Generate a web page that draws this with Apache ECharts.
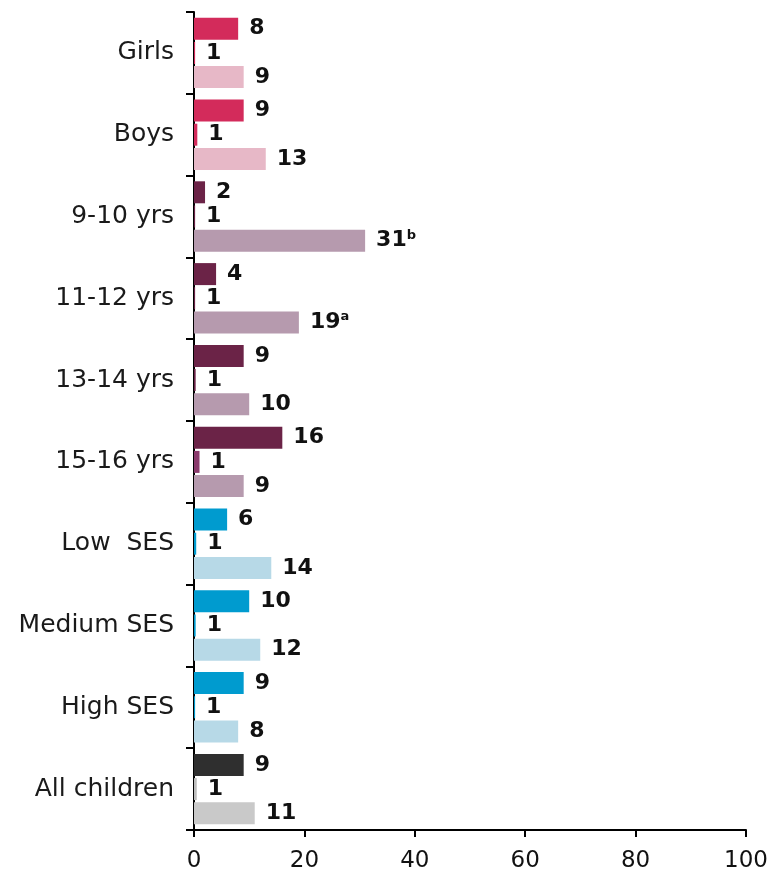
<!DOCTYPE html>
<html>
<head>
<meta charset="utf-8">
<script src="https://cdn.jsdelivr.net/npm/echarts@6/dist/echarts.min.js"></script>
<style>
html,body{margin:0;padding:0;background:#fff;}
#chart{width:780px;height:874px;}
</style>
</head>
<body>
<div id="chart"></div>
<script>
// ---- data ----
const categories = ['Girls','Boys','9-10 yrs','11-12 yrs','13-14 yrs','15-16 yrs','Low  SES','Medium SES','High SES','All children'];
const topValues    = [8, 9, 2, 4, 9, 16, 6, 10, 9, 9];
const middleValues = [0.2, 0.6, 0.2, 0.2, 0.3, 1.0, 0.4, 0.3, 0.2, 0.5];
const bottomValues = [9, 13, 31, 19, 10, 9, 14, 12, 8, 11];
const topLabels    = ['8','9','2','4','9','16','6','10','9','9'];
const middleLabels = ['1','1','1','1','1','1','1','1','1','1'];
const bottomLabels = ['9','13','31^b','19^a','10','9','14','12','8','11'];
const xTicks = [0, 20, 40, 60, 80, 100];

// ---- colours per category group ----
const darkColors  = ['#D32B5B','#D32B5B','#6B2347','#6B2347','#6B2347','#6B2347','#009BCF','#009BCF','#009BCF','#2F2F2F'];
const midColors   = ['#D32B5B','#D32B5B','#6B2347','#6B2347','#6B2347','#8A3A6C','#009BCF','#009BCF','#009BCF','#BDBDBD'];
const lightColors = ['#E7B8C7','#E7B8C7','#B69AAE','#B69AAE','#B69AAE','#B69AAE','#B7D9E7','#B7D9E7','#B7D9E7','#C9C9C9'];

function toRich(s) {
  const parts = s.split('^');
  return parts.length > 1 ? '{n|' + parts[0] + '}{s|' + parts[1] + '}' : '{n|' + s + '}';
}
const labelStyle = {
  show: true,
  position: 'right',
  distance: 11,
  rich: {
    n: { fontFamily: 'DejaVu Sans', fontWeight: 'bold', fontSize: 22, color: '#111', lineHeight: 24 },
    s: { fontFamily: 'DejaVu Sans', fontWeight: 'bold', fontSize: 13, color: '#111', lineHeight: 13, verticalAlign: 'top' }
  }
};
function makeSeries(name, values, colors, labels) {
  return {
    name: name,
    type: 'bar',
    barWidth: 22,
    barGap: '10%',
    data: values.map((v, i) => ({ value: v, itemStyle: { color: colors[i] } })),
    label: Object.assign({}, labelStyle, { formatter: p => toRich(labels[p.dataIndex]) }),
    emphasis: { disabled: true }
  };
}

const chart = echarts.init(document.getElementById('chart'), null, { renderer: 'canvas' });
chart.setOption({
  animation: false,
  backgroundColor: '#fff',
  grid: { left: 194, right: 34, top: 12, bottom: 44, containLabel: false },
  xAxis: {
    type: 'value',
    min: xTicks[0],
    max: xTicks[xTicks.length - 1],
    interval: 20,
    axisLine: { show: true, lineStyle: { color: '#000', width: 2 } },
    axisTick: { show: true, length: 7, lineStyle: { color: '#000', width: 2 } },
    axisLabel: { fontFamily: 'DejaVu Sans', fontSize: 23, color: '#111', margin: 20 },
    splitLine: { show: false }
  },
  yAxis: {
    type: 'category',
    inverse: true,
    data: categories,
    axisLine: { show: true, lineStyle: { color: '#000', width: 2 } },
    axisTick: { show: true, length: 8, lineStyle: { color: '#000', width: 2 } },
    axisLabel: { fontFamily: 'DejaVu Sans', fontSize: 25, color: '#1a1a1a', margin: 20 }
  },
  series: [
    makeSeries('top', topValues, darkColors, topLabels),
    makeSeries('middle', middleValues, midColors, middleLabels),
    makeSeries('bottom', bottomValues, lightColors, bottomLabels)
  ]
});
</script>
</body>
</html>
